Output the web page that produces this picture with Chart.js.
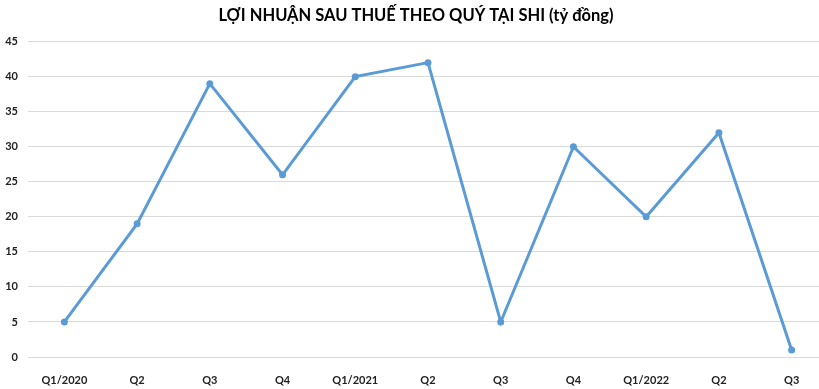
<!DOCTYPE html>
<html>
<head>
<meta charset="utf-8">
<script src="https://cdn.jsdelivr.net/npm/chart.js@4"></script>
<style>
html,body{margin:0;padding:0;background:#fff;overflow:hidden;}
#wrap{width:832px;height:389px;position:relative;}
</style>
</head>
<body>
<div id="wrap"><canvas id="c"></canvas></div>
<script>
const categories = ["Q1/2020","Q2","Q3","Q4","Q1/2021","Q2","Q3","Q4","Q1/2022","Q2","Q3"];
const profit = [5, 19, 39, 26, 40, 42, 5, 30, 20, 32, 1];
const yTicks = [0,5,10,15,20,25,30,35,40,45];
const titleText = "LỢI NHUẬN SAU THUẾ THEO QUÝ TẠI SHI (tỷ đồng)";

new Chart(document.getElementById('c'), {
  type: 'line',
  data: {
    labels: categories,
    datasets: [{
      data: profit,
      borderColor: '#5B9BD5',
      backgroundColor: '#5B9BD5',
      borderWidth: 3,
      pointRadius: 3.5,
      pointBorderWidth: 0,
      tension: 0
    }]
  },
  options: {
    responsive: true,
    maintainAspectRatio: false,
    animation: false,
    layout: {padding: {left: 0, right: 0, top: 0, bottom: 0}},
    plugins: {
      legend: {display: false},
      tooltip: {enabled: false},
      title: {
        display: true,
        text: titleText,
        color: '#000',
        font: {family: 'Lato', size: 16.5, weight: 'bold'},
        padding: {top: 6, bottom: 15.8}
      }
    },
    scales: {
      x: {
        offset: true,
        grid: {display: false},
        border: {display: true, color: '#d9d9d9', width: 1},
        ticks: {color: '#222', font: {family: 'Lato', size: 11, weight: 'bold'}, padding: 9, maxRotation: 0, autoSkip: false},
        afterFit: s => { s.height = 32; }
      },
      y: {
        min: 0, max: 45,
        afterBuildTicks: s => { s.ticks = yTicks.map(v => ({value: v})); },
        grid: {color: '#d9d9d9', drawTicks: false},
        border: {display: false},
        ticks: {color: '#222', font: {family: 'Lato', size: 11, weight: 'bold'}, padding: 10},
        afterFit: s => { s.width = 28; }
      }
    }
  }
});
</script>
</body>
</html>
